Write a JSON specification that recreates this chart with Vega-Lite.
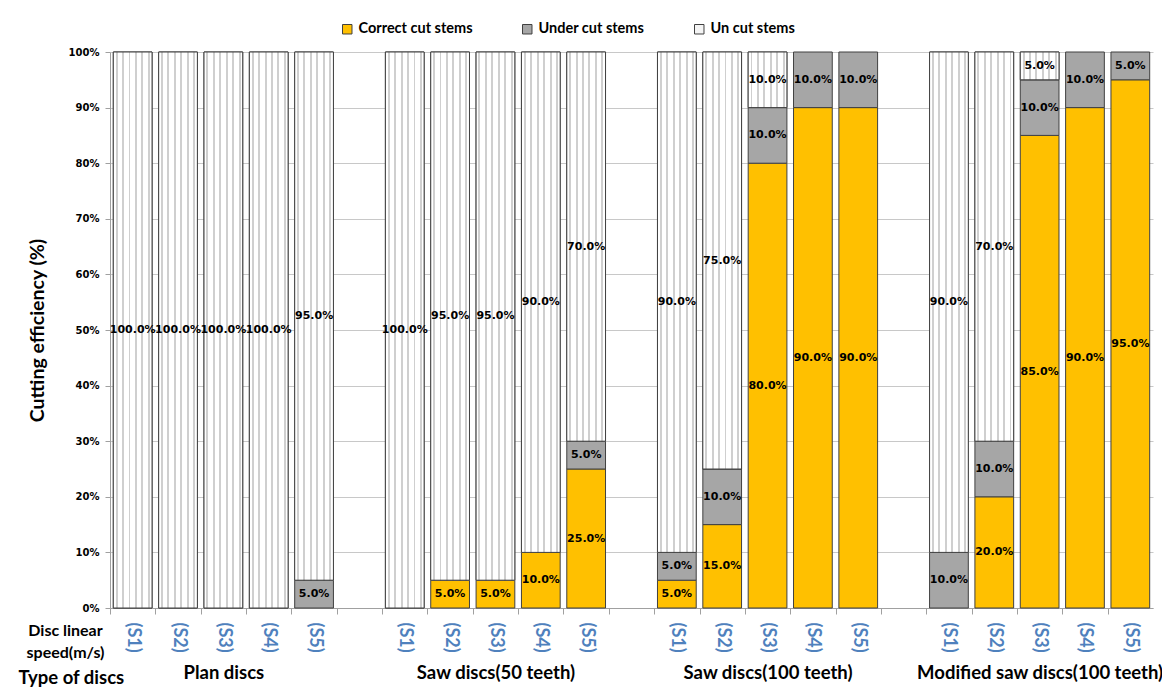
{
  "$schema": "https://vega.github.io/schema/vega-lite/v6.json",
  "autosize": {"type": "none"},
  "padding": {"left": 110, "top": 52, "right": 9, "bottom": 85},
  "width": 1043,
  "height": 556,
  "background": "white",
  "config": {"view": {"stroke": null}},
  "data": {
    "values": [
      {"group": "Plan discs", "slot": "Plan discs|(S1)", "Correct cut stems": 0, "Under cut stems": 0, "Un cut stems": 1.0},
      {"group": "Plan discs", "slot": "Plan discs|(S2)", "Correct cut stems": 0, "Under cut stems": 0, "Un cut stems": 1.0},
      {"group": "Plan discs", "slot": "Plan discs|(S3)", "Correct cut stems": 0, "Under cut stems": 0, "Un cut stems": 1.0},
      {"group": "Plan discs", "slot": "Plan discs|(S4)", "Correct cut stems": 0, "Under cut stems": 0, "Un cut stems": 1.0},
      {"group": "Plan discs", "slot": "Plan discs|(S5)", "Correct cut stems": 0, "Under cut stems": 0.05, "Un cut stems": 0.95},
      {"group": "Saw discs(50 teeth)", "slot": "Saw discs(50 teeth)|(S1)", "Correct cut stems": 0, "Under cut stems": 0, "Un cut stems": 1.0},
      {"group": "Saw discs(50 teeth)", "slot": "Saw discs(50 teeth)|(S2)", "Correct cut stems": 0.05, "Under cut stems": 0, "Un cut stems": 0.95},
      {"group": "Saw discs(50 teeth)", "slot": "Saw discs(50 teeth)|(S3)", "Correct cut stems": 0.05, "Under cut stems": 0, "Un cut stems": 0.95},
      {"group": "Saw discs(50 teeth)", "slot": "Saw discs(50 teeth)|(S4)", "Correct cut stems": 0.10, "Under cut stems": 0, "Un cut stems": 0.90},
      {"group": "Saw discs(50 teeth)", "slot": "Saw discs(50 teeth)|(S5)", "Correct cut stems": 0.25, "Under cut stems": 0.05, "Un cut stems": 0.70},
      {"group": "Saw discs(100 teeth)", "slot": "Saw discs(100 teeth)|(S1)", "Correct cut stems": 0.05, "Under cut stems": 0.05, "Un cut stems": 0.90},
      {"group": "Saw discs(100 teeth)", "slot": "Saw discs(100 teeth)|(S2)", "Correct cut stems": 0.15, "Under cut stems": 0.10, "Un cut stems": 0.75},
      {"group": "Saw discs(100 teeth)", "slot": "Saw discs(100 teeth)|(S3)", "Correct cut stems": 0.80, "Under cut stems": 0.10, "Un cut stems": 0.10},
      {"group": "Saw discs(100 teeth)", "slot": "Saw discs(100 teeth)|(S4)", "Correct cut stems": 0.90, "Under cut stems": 0.10, "Un cut stems": 0},
      {"group": "Saw discs(100 teeth)", "slot": "Saw discs(100 teeth)|(S5)", "Correct cut stems": 0.90, "Under cut stems": 0.10, "Un cut stems": 0},
      {"group": "Modified saw discs(100 teeth)", "slot": "Modified saw discs(100 teeth)|(S1)", "Correct cut stems": 0, "Under cut stems": 0.10, "Un cut stems": 0.90},
      {"group": "Modified saw discs(100 teeth)", "slot": "Modified saw discs(100 teeth)|(S2)", "Correct cut stems": 0.20, "Under cut stems": 0.10, "Un cut stems": 0.70},
      {"group": "Modified saw discs(100 teeth)", "slot": "Modified saw discs(100 teeth)|(S3)", "Correct cut stems": 0.85, "Under cut stems": 0.10, "Un cut stems": 0.05},
      {"group": "Modified saw discs(100 teeth)", "slot": "Modified saw discs(100 teeth)|(S4)", "Correct cut stems": 0.90, "Under cut stems": 0.10, "Un cut stems": 0},
      {"group": "Modified saw discs(100 teeth)", "slot": "Modified saw discs(100 teeth)|(S5)", "Correct cut stems": 0.95, "Under cut stems": 0.05, "Un cut stems": 0}
    ]
  },
  "transform": [
    {"fold": ["Correct cut stems", "Under cut stems", "Un cut stems"], "as": ["cat", "v"]},
    {"stack": "v", "groupby": ["slot"], "as": ["v0", "v1"]},
    {"calculate": "(datum.v0 + datum.v1) / 2", "as": "mid"}
  ],
  "layer": [
    {
      "layer": [
        {
          "transform": [{"filter": "datum.v > 0"}],
          "mark": {"type": "bar", "stroke": "#404040", "strokeWidth": 1},
          "encoding": {
            "x": {
              "field": "slot", "type": "nominal",
              "scale": {
                "domain": [
                  "Plan discs|(S1)", "Plan discs|(S2)", "Plan discs|(S3)", "Plan discs|(S4)", "Plan discs|(S5)", "gap1",
                  "Saw discs(50 teeth)|(S1)", "Saw discs(50 teeth)|(S2)", "Saw discs(50 teeth)|(S3)", "Saw discs(50 teeth)|(S4)", "Saw discs(50 teeth)|(S5)", "gap2",
                  "Saw discs(100 teeth)|(S1)", "Saw discs(100 teeth)|(S2)", "Saw discs(100 teeth)|(S3)", "Saw discs(100 teeth)|(S4)", "Saw discs(100 teeth)|(S5)", "gap3",
                  "Modified saw discs(100 teeth)|(S1)", "Modified saw discs(100 teeth)|(S2)", "Modified saw discs(100 teeth)|(S3)", "Modified saw discs(100 teeth)|(S4)", "Modified saw discs(100 teeth)|(S5)"
                ],
                "paddingInner": 0.146, "paddingOuter": 0.073
              },
              "axis": {
                "orient": "bottom",
                "labelExpr": "indexof(datum.value, '|') < 0 ? '' : split(datum.value, '|')[1]",
                "labelAngle": 90, "labelAlign": "left", "labelBaseline": "middle",
                "labelColor": "#4F81BD", "labelFont": "Lato", "labelFontSize": 18, "labelFontWeight": "bold",
                "labelPadding": 8, "labelOffset": 22.67, "tickOffset": -22.67,
                "tickSize": 6, "tickColor": "#A0A0A0", "domainColor": "#A0A0A0",
                "grid": false,
                "title": ["Disc linear", "speed(m/s)"],
                "titleX": -45, "titleY": 22, "titleAlign": "center", "titleBaseline": "middle", "titleAngle": 0,
                "titleFont": "Lato", "titleFontSize": 16, "titleFontWeight": "bold", "titleColor": "black", "titleLineHeight": 22
              }
            },
            "y": {
              "field": "v0", "type": "quantitative",
              "scale": {"domain": [0, 1], "nice": false},
              "axis": {
                "values": [0, 0.1, 0.2, 0.3, 0.4, 0.5, 0.6, 0.7, 0.8, 0.9, 1.0],
                "format": ".0%",
                "grid": true, "gridColor": "#C8C8C8",
                "domainColor": "#A0A0A0", "tickColor": "#A0A0A0", "tickSize": 5,
                "labelFont": "DejaVu Sans", "labelFontWeight": "bold", "labelFontSize": 10, "labelColor": "black", "labelPadding": 6,
                "title": "Cutting efficiency (%)",
                "titleFont": "Lato", "titleFontSize": 19.5, "titleFontWeight": "bold", "titleColor": "black", "titlePadding": 21
              }
            },
            "y2": {"field": "v1"},
            "color": {
              "field": "cat", "type": "nominal",
              "scale": {
                "domain": ["Correct cut stems", "Under cut stems", "Un cut stems"],
                "range": ["#FFC000", "#A6A6A6", "#F4F4F4"]
              },
              "legend": {
                "orient": "none", "legendX": 230, "legendY": -30, "direction": "horizontal",
                "title": null, "symbolType": "square", "symbolSize": 90,
                "symbolStrokeColor": "#404040", "symbolStrokeWidth": 1,
                "labelFont": "Lato", "labelFontSize": 14.5, "labelFontWeight": "bold", "labelColor": "black",
                "labelOffset": 4, "columnPadding": 47, "padding": 0, "labelLimit": 0
              }
            }
          }
        },
        {
          "transform": [{"filter": "datum.cat === 'Un cut stems' && datum.v > 0"}],
          "mark": {
            "type": "bar", "stroke": "#404040", "strokeWidth": 1,
            "fill": {
              "gradient": "linear", "x1": 0, "y1": 0, "x2": 1, "y2": 0,
              "stops": [
                {"offset": 0, "color": "#ffffff"},
                {"offset": 0.06, "color": "#ffffff"}, {"offset": 0.06, "color": "#cfcfcf"},
                {"offset": 0.11, "color": "#cfcfcf"}, {"offset": 0.11, "color": "#ffffff"},
                {"offset": 0.2267, "color": "#ffffff"}, {"offset": 0.2267, "color": "#cfcfcf"},
                {"offset": 0.2767, "color": "#cfcfcf"}, {"offset": 0.2767, "color": "#ffffff"},
                {"offset": 0.3933, "color": "#ffffff"}, {"offset": 0.3933, "color": "#cfcfcf"},
                {"offset": 0.4433, "color": "#cfcfcf"}, {"offset": 0.4433, "color": "#ffffff"},
                {"offset": 0.56, "color": "#ffffff"}, {"offset": 0.56, "color": "#cfcfcf"},
                {"offset": 0.61, "color": "#cfcfcf"}, {"offset": 0.61, "color": "#ffffff"},
                {"offset": 0.7267, "color": "#ffffff"}, {"offset": 0.7267, "color": "#cfcfcf"},
                {"offset": 0.7767, "color": "#cfcfcf"}, {"offset": 0.7767, "color": "#ffffff"},
                {"offset": 0.8933, "color": "#ffffff"}, {"offset": 0.8933, "color": "#cfcfcf"},
                {"offset": 0.9433, "color": "#cfcfcf"}, {"offset": 0.9433, "color": "#ffffff"},
                {"offset": 1, "color": "#ffffff"}
              ]
            }
          },
          "encoding": {
            "x": {"field": "slot", "type": "nominal"},
            "y": {"field": "v0", "type": "quantitative"},
            "y2": {"field": "v1"}
          }
        },
        {
          "transform": [{"filter": "datum.v > 0"}],
          "mark": {"type": "text", "font": "DejaVu Sans", "fontWeight": "bold", "fontSize": 11, "color": "black", "align": "center", "baseline": "middle"},
          "encoding": {
            "x": {"field": "slot", "type": "nominal"},
            "y": {"field": "mid", "type": "quantitative"},
            "text": {"field": "v", "type": "quantitative", "format": ".1%"}
          }
        }
      ]
    },
    {
      "mark": {"type": "text"},
      "encoding": {
        "x": {
          "field": "group", "type": "nominal",
          "scale": {
            "type": "point",
            "domain": ["Plan discs", "Saw discs(50 teeth)", "Saw discs(100 teeth)", "Modified saw discs(100 teeth)"],
            "padding": 0.41667
          },
          "axis": {
            "orient": "bottom", "ticks": false, "tickSize": 0, "domain": false, "grid": false,
            "labelAngle": 0, "labelAlign": "center", "labelBaseline": "top",
            "labelFont": "Lato", "labelFontSize": 18.5, "labelFontWeight": "bold", "labelColor": "black",
            "labelPadding": 55, "labelLimit": 0, "labelOverlap": false,
            "title": "Type of discs",
            "titleX": -92, "titleY": 60, "titleAlign": "left", "titleBaseline": "top", "titleAngle": 0,
            "titleFont": "Lato", "titleFontSize": 18.5, "titleFontWeight": "bold", "titleColor": "black"
          }
        },
        "text": {"value": ""}
      }
    }
  ],
  "resolve": {"scale": {"x": "independent"}, "axis": {"x": "independent"}}
}
